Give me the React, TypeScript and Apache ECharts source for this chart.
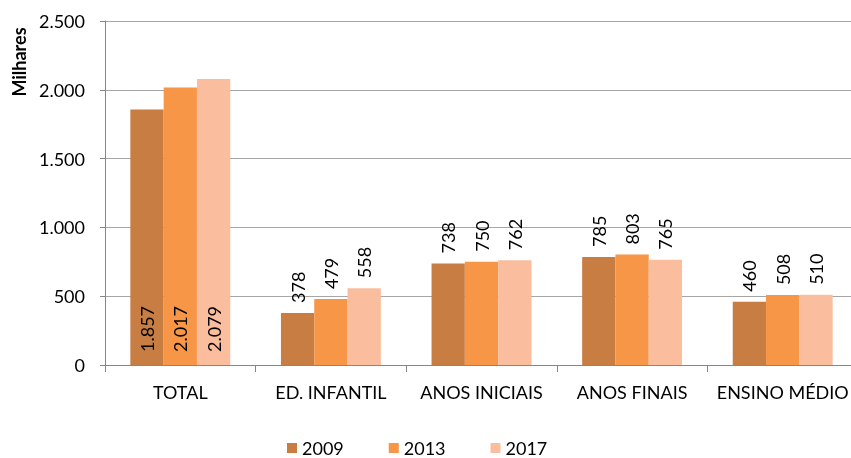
import React, { useEffect, useRef } from "react";
import * as echarts from "echarts";

const categories = ["TOTAL", "ED. INFANTIL", "ANOS INICIAIS", "ANOS FINAIS", "ENSINO MÉDIO"];
const years = ["2009", "2013", "2017"];
const values2009 = [1857, 378, 738, 785, 460];
const values2013 = [2017, 479, 750, 803, 508];
const values2017 = [2079, 558, 762, 765, 510];
const colors = ["#C87D43", "#F79646", "#FABE9F"];
const FONT = "Lato";

const fmt = (v: number) => String(v).replace(/\B(?=(\d{3})+(?!\d))/g, ".");

export default function App() {
  const ref = useRef<HTMLDivElement>(null);
  useEffect(() => {
    const chart = echarts.init(ref.current!, null, { renderer: "svg" });
    const series = [values2009, values2013, values2017].map((vals, i) => ({
      name: years[i],
      type: "bar",
      barWidth: 33.3,
      barGap: "0%",
      itemStyle: { color: colors[i] },
      label: {
        show: true,
        position: "top",
        rotate: 90,
        align: "left",
        verticalAlign: "middle",
        distance: 10,
        fontFamily: FONT,
        fontSize: 18,
        color: "#000",
        formatter: (p: any) => fmt(p.value),
      },
      data: vals.map((v, j) =>
        j === 0
          ? {
              value: v,
              label: {
                position: "insideBottom",
                rotate: 90,
                align: "left",
                verticalAlign: "middle",
                distance: 13,
              },
            }
          : v
      ),
    }));
    chart.setOption({
      animation: false,
      textStyle: { fontFamily: FONT },
      grid: { left: 105, right: 0, top: 21, height: 344, containLabel: false },
      legend: {
        top: 434,
        left: 282,
        padding: [5, 5, 0, 5],
        itemWidth: 10,
        itemHeight: 10,
        itemGap: 45,
        icon: "rect",
        textStyle: { fontFamily: FONT, fontSize: 18, lineHeight: 18, color: "#000" },
        data: years,
      },
      xAxis: {
        type: "category",
        data: categories,
        axisLine: { lineStyle: { color: "#868686" } },
        axisTick: { show: true, length: 7, lineStyle: { color: "#868686" } },
        axisLabel: { fontFamily: FONT, fontSize: 18, color: "#000", margin: 18, interval: 0 },
      },
      yAxis: {
        type: "value",
        min: 0,
        max: 2500,
        interval: 500,
        axisLine: { show: true, lineStyle: { color: "#868686" } },
        axisTick: { show: true, length: 5, lineStyle: { color: "#868686" } },
        splitLine: { lineStyle: { color: "#A6A6A6" } },
        axisLabel: {
          fontFamily: FONT,
          fontSize: 18,
          color: "#000",
          margin: 20,
          formatter: (v: number) => fmt(v),
        },
      },
      graphic: [
        {
          type: "text",
          x: 19,
          y: 62,
          rotation: Math.PI / 2,
          style: {
            text: "Milhares",
            fontFamily: FONT,
            fontSize: 18,
            fontWeight: "bold",
            fill: "#000",
            align: "center",
            verticalAlign: "middle",
          },
        },
      ],
      series,
    });
    return () => chart.dispose();
  }, []);
  return (
    <div
      ref={ref}
      style={{ position: "fixed", left: 0, top: 0, width: 858, height: 458 }}
    />
  );
}
